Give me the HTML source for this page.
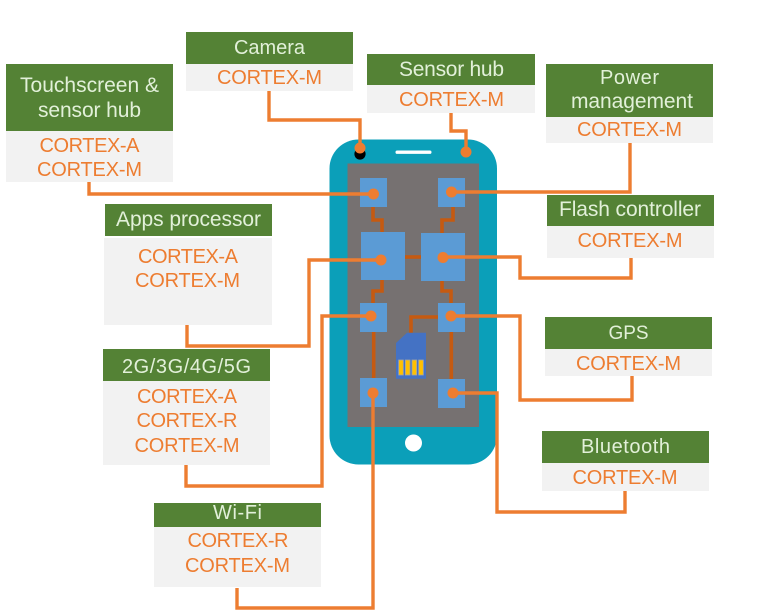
<!DOCTYPE html>
<html><head><meta charset="utf-8"><style>
html,body{margin:0;padding:0;background:#fff}
svg{display:block}
text{font-family:"Liberation Sans",sans-serif;font-size:20px;text-anchor:middle}
.h{fill:#e2f0d9}
.w{font-size:21px}
.o{fill:#ed7d31}
.g{fill:#548235}
.b{fill:#f2f2f2}
.c{fill:#5b9bd5}
.br{fill:none;stroke:#c55a11;stroke-width:3.6}
.l{fill:none;stroke:#ed7d31;stroke-width:3.4}
.d{fill:#ed7d31}
</style></head><body>
<svg width="768" height="612" viewBox="0 0 768 612" xmlns="http://www.w3.org/2000/svg">
<!-- phone -->
<rect x="329.5" y="139.5" width="167.5" height="325" rx="29" fill="#0b9fb9"/>
<rect x="347.5" y="163.5" width="131.5" height="263.5" fill="#767171"/>
<rect x="395.5" y="150.5" width="36" height="3.4" rx="1.7" fill="#fff"/>
<circle cx="413.5" cy="443" r="8.5" fill="#fff"/>
<circle cx="360" cy="154" r="5.6" fill="#000"/>
<!-- brown links -->
<path class="br" d="M373 207V220H382V233"/>
<path class="br" d="M453 207V220H442V234"/>
<path class="br" d="M405 257H421"/>
<path class="br" d="M382 280V291H373V303"/>
<path class="br" d="M442 281V291H451V303"/>
<path class="br" d="M373.7 332V378"/>
<path class="br" d="M451.3 331V379"/>
<path class="br" d="M438 317H411V334"/>
<!-- chips -->
<rect class="c" x="360" y="178" width="27" height="29"/>
<rect class="c" x="438" y="178" width="27" height="29"/>
<rect class="c" x="361" y="232" width="44" height="48"/>
<rect class="c" x="421" y="233" width="44" height="48"/>
<rect class="c" x="360" y="303" width="27" height="29"/>
<rect class="c" x="438" y="303" width="27" height="29"/>
<rect class="c" x="360" y="378" width="27" height="29"/>
<rect class="c" x="438" y="379" width="27" height="29"/>
<!-- SIM -->
<polygon points="396,343 407,332.7 426,332.7 426,378.7 396,378.7" fill="#4472c4"/>
<g fill="#ffc000" stroke="#a5a5a5" stroke-width="0.8">
<rect x="398.7" y="360" width="4.6" height="15"/>
<rect x="405.4" y="360" width="4.6" height="15"/>
<rect x="412" y="360" width="4.6" height="15"/>
<rect x="418.7" y="360" width="4.6" height="15"/>
</g>
<!-- orange lines -->
<path class="l" d="M269 91V120H360V148"/>
<path class="l" d="M451 113V131H466V152"/>
<path class="l" d="M89 182V194H374"/>
<path class="l" d="M630 143V192H451"/>
<path class="l" d="M631 258V278H520V257H443"/>
<path class="l" d="M187 325V346H309V260H381"/>
<path class="l" d="M186 465V486H322V316H371"/>
<path class="l" d="M632 376V400H520V316H451"/>
<path class="l" d="M453 393H497V512H625V491"/>
<path class="l" d="M237 588V608H373V393"/>
<g class="d">
<circle cx="360" cy="148" r="5.5"/>
<circle cx="466" cy="152" r="5.5"/>
<circle cx="373.5" cy="194" r="5.5"/>
<circle cx="451.5" cy="192" r="5.5"/>
<circle cx="381" cy="260" r="5.5"/>
<circle cx="443" cy="257.5" r="5.5"/>
<circle cx="371" cy="316" r="5.5"/>
<circle cx="451" cy="316" r="5.5"/>
<circle cx="373" cy="393" r="5.5"/>
<circle cx="453" cy="393" r="5.5"/>
</g>
<!-- Touchscreen -->
<rect class="g" x="6" y="64" width="167" height="67"/><rect class="b" x="6" y="131" width="167" height="51"/>
<text class="h w" x="89.5" y="92" textLength="139">Touchscreen &amp;</text>
<text class="h w" x="89.5" y="117" textLength="103">sensor hub</text>
<text class="o" x="89.5" y="152" textLength="100">CORTEX-A</text>
<text class="o" x="89.5" y="176" textLength="105">CORTEX-M</text>
<!-- Camera -->
<rect class="g" x="186" y="32" width="167" height="32"/><rect class="b" x="186" y="64" width="167" height="27"/>
<text class="h" x="269.5" y="54" textLength="71">Camera</text>
<text class="o" x="269.5" y="84" textLength="105">CORTEX-M</text>
<!-- Sensor hub -->
<rect class="g" x="367" y="54" width="168" height="31"/><rect class="b" x="367" y="85" width="168" height="28"/>
<text class="h w" x="451.5" y="76" textLength="105">Sensor hub</text>
<text class="o" x="451.5" y="106" textLength="105">CORTEX-M</text>
<!-- Power -->
<rect class="g" x="546" y="64" width="167" height="53"/><rect class="b" x="546" y="117" width="167" height="26"/>
<text class="h" x="629.5" y="84" textLength="59">Power</text>
<text class="h w" x="632" y="108" textLength="122">management</text>
<text class="o" x="629.5" y="136" textLength="105">CORTEX-M</text>
<!-- Apps -->
<rect class="g" x="105" y="204" width="167" height="32"/><rect class="b" x="104" y="238" width="168" height="87"/>
<text class="h w" x="188.5" y="226" textLength="145">Apps processor</text>
<text class="o" x="188" y="263" textLength="100">CORTEX-A</text>
<text class="o" x="187.5" y="287" textLength="105">CORTEX-M</text>
<!-- Flash -->
<rect class="g" x="547" y="195" width="167" height="31"/><rect class="b" x="547" y="226" width="167" height="32"/>
<text class="h w" x="630" y="216" textLength="142">Flash controller</text>
<text class="o" x="630" y="247" textLength="105">CORTEX-M</text>
<!-- GPS -->
<rect class="g" x="545" y="317" width="167" height="32"/><rect class="b" x="545" y="349" width="167" height="27"/>
<text class="h" x="628.5" y="339" style="font-size:19px" textLength="40">GPS</text>
<text class="o" x="628.5" y="370" textLength="105">CORTEX-M</text>
<!-- 2G -->
<rect class="g" x="103" y="349" width="167" height="32"/><rect class="b" x="103" y="381" width="167" height="84"/>
<text class="h" x="186.5" y="373" textLength="129">2G/3G/4G/5G</text>
<text class="o" x="187" y="403" textLength="100">CORTEX-A</text>
<text class="o" x="187" y="427" textLength="101">CORTEX-R</text>
<text class="o" x="187" y="452" textLength="105">CORTEX-M</text>
<!-- Bluetooth -->
<rect class="g" x="542" y="431" width="167" height="32"/><rect class="b" x="542" y="463" width="167" height="28"/>
<text class="h" x="625.5" y="453" textLength="89">Bluetooth</text>
<text class="o" x="625" y="484" textLength="105">CORTEX-M</text>
<!-- WiFi -->
<rect class="g" x="154" y="503" width="167" height="24"/><rect class="b" x="154" y="527" width="167" height="60"/>
<text class="h" x="237.5" y="519" textLength="49">Wi-Fi</text>
<text class="o" x="238" y="547" textLength="101">CORTEX-R</text>
<text class="o" x="237.5" y="572" textLength="105">CORTEX-M</text>
</svg>
</body></html>
